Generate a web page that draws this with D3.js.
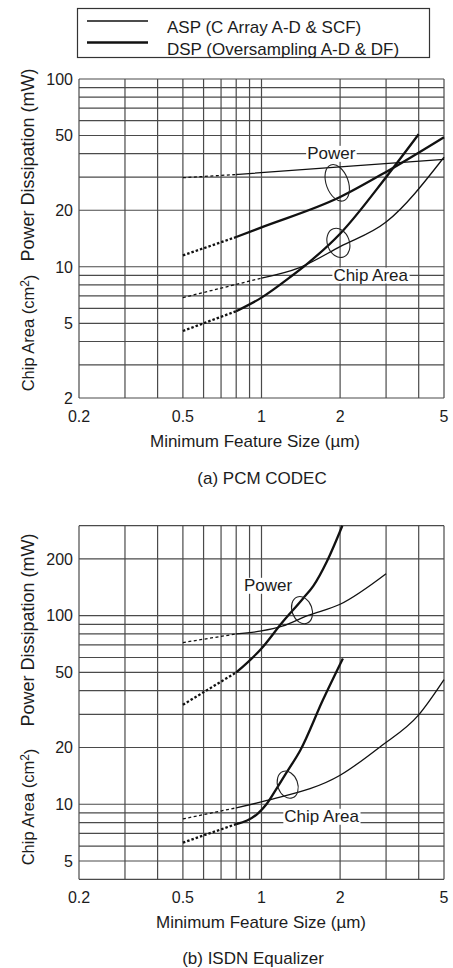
<!DOCTYPE html>
<meta charset="utf-8">

<!-- Load d3.js -->
<script src="https://d3js.org/d3.v7.min.js"></script>

<style>
  body { margin: 0; background: #fff; }
  text { font-family: "Liberation Sans", Arial, sans-serif; fill: #1c1c1c; }
</style>

<!-- Create a div where the graph will take place -->
<div id="chart"></div>

<script>

// ---- data (feature size in um, power in mW / area in cm2) ----

// (a) PCM CODEC
var pcmAspPowerX = [0.5, 0.8, 2, 5];
var pcmAspPowerY = [29.8, 31, 34, 37.3];
var pcmDspPowerX = [0.5, 0.8, 1, 2, 3, 5];
var pcmDspPowerY = [11.5, 14.4, 16.2, 23.5, 32, 49];
var pcmAspChipX = [0.5, 1, 1.4, 2, 3, 5];
var pcmAspChipY = [6.85, 8.7, 9.9, 12.8, 17.3, 38.3];
var pcmDspChipX = [0.5, 0.8, 1, 1.3, 1.5, 2, 3, 4];
var pcmDspChipY = [4.55, 5.8, 6.85, 8.9, 10.4, 15, 30, 50.8];
// where the dotted (extrapolated) part stops: asp power, dsp power, asp chip, dsp chip
var pcmDashEnd = [0.8, 0.8, 1, 0.8];

// (b) ISDN Equalizer
var isdnAspPowerX = [0.5, 0.8, 1, 1.2, 1.5, 2, 3];
var isdnAspPowerY = [72, 80, 83, 88, 100, 115, 167];
var isdnDspPowerX = [0.5, 0.8, 1, 1.2, 1.44, 1.58, 1.78, 2.04];
var isdnDspPowerY = [33.7, 50, 67, 92, 123, 144, 194, 300];
var isdnAspChipX = [0.5, 0.8, 1.05, 2, 2.85, 4, 5];
var isdnAspChipY = [8.36, 9.57, 10.47, 14.25, 20.2, 29.8, 45.8];
var isdnDspChipX = [0.5, 0.8, 0.97, 1.05, 1.15, 1.25, 1.41, 1.72, 2.05];
var isdnDspChipY = [6.26, 7.85, 8.95, 10.1, 12.3, 14.8, 19.4, 35.8, 59.3];
var isdnDashEnd = [0.8, 0.8, 0.8, 0.8];

// ticks and grid
var xTicks = [0.2, 0.5, 1, 2, 5];
var xGrid = [0.2, 0.3, 0.4, 0.5, 0.6, 0.7, 0.8, 0.9, 1, 2, 3, 4, 5];
var pcmYTicks = [2, 5, 10, 20, 50, 100];
var pcmYGrid = [2, 3, 4, 5, 6, 7, 8, 9, 10, 20, 30, 40, 50, 60, 70, 80, 90, 100];
var isdnYTicks = [5, 10, 20, 50, 100, 200];
var isdnYGrid = [4, 5, 6, 7, 8, 9, 10, 20, 30, 40, 50, 60, 70, 80, 90, 100, 200, 300];

var legendLabels = ["ASP (C Array A-D & SCF)", "DSP (Oversampling A-D & DF)"];

// annotation labels and ellipses, placed in data units
var pcmNotes = [{text: "Power", x: 1.85, y: 40.5}, {text: "Chip Area", x: 2.62, y: 9.1}];
var pcmRings = [{x: 1.95, y: 28, rx: 11, ry: 19}, {x: 1.97, y: 13.4, rx: 11, ry: 15}];
var isdnNotes = [{text: "Power", x: 1.06, y: 146}, {text: "Chip Area", x: 1.7, y: 8.7}];
var isdnRings = [{x: 1.43, y: 107, rx: 10, ry: 14}, {x: 1.26, y: 12.7, rx: 10, ry: 14}];

// ---- page ----
var W = 453, H = 968;
var svg = d3.select("#chart")
  .append("svg")
    .attr("width", W)
    .attr("height", H);

var x = d3.scaleLog()
  .domain([0.2, 5])
  .range([79, 444]);

// legend
var legend = svg.append("g");
legend.append("rect")
  .attr("x", 77.5).attr("y", 8.5)
  .attr("width", 352).attr("height", 49)
  .attr("fill", "none")
  .attr("stroke", "#333")
  .attr("stroke-width", 1.2);
legendLabels.forEach(function(label, i) {
  legend.append("line")
    .attr("x1", 87).attr("x2", 148)
    .attr("y1", 21 + i * 21.5).attr("y2", 21 + i * 21.5)
    .attr("stroke", "#111")
    .attr("stroke-width", i == 0 ? 1.5 : 2.4);
  legend.append("text")
    .attr("x", 167)
    .attr("y", 32.5 + i * 22)
    .style("font-size", "17px")
    .text(label);
});

function zip(xs, ys) {
  return xs.map(function(v, i) { return [v, ys[i]]; });
}

function drawPanel(p) {
  var y = d3.scaleLog()
    .domain(p.yDomain)
    .range(p.yRange);
  var g = svg.append("g");

  // grid
  g.selectAll(".vgrid")
    .data(xGrid)
    .enter()
    .append("line")
      .attr("x1", function(d) { return x(d); })
      .attr("x2", function(d) { return x(d); })
      .attr("y1", p.yRange[0])
      .attr("y2", p.yRange[1])
      .attr("stroke", "#4a4a4a")
      .attr("stroke-width", 1.2);
  g.selectAll(".hgrid")
    .data(p.yGrid)
    .enter()
    .append("line")
      .attr("x1", x.range()[0])
      .attr("x2", x.range()[1])
      .attr("y1", function(d) { return y(d); })
      .attr("y2", function(d) { return y(d); })
      .attr("stroke", "#4a4a4a")
      .attr("stroke-width", 1.2);

  // tick labels
  g.selectAll(".ylab")
    .data(p.yTicks)
    .enter()
    .append("text")
      .attr("x", 73)
      .attr("y", function(d) { return y(d); })
      .attr("dy", "0.36em")
      .attr("text-anchor", "end")
      .style("font-size", "16px")
      .text(function(d) { return d; });
  g.selectAll(".xlab")
    .data(xTicks)
    .enter()
    .append("text")
      .attr("x", function(d) { return x(d); })
      .attr("y", p.yRange[0] + 24)
      .attr("text-anchor", "middle")
      .style("font-size", "16px")
      .text(function(d) { return d; });

  // axis titles
  g.append("text")
    .attr("x", p.xTitleX)
    .attr("y", p.yRange[0] + 49)
    .attr("text-anchor", "middle")
    .style("font-size", "17px")
    .text("Minimum Feature Size (\u00b5m)");
  g.append("text")
    .attr("transform", "translate(34," + p.powerTitleY + ")rotate(-90)")
    .attr("text-anchor", "middle")
    .style("font-size", "18px")
    .text("Power Dissipation (mW)");
  var chip = g.append("text")
    .attr("transform", "translate(34," + p.chipTitleY + ")rotate(-90)")
    .attr("text-anchor", "middle")
    .style("font-size", "16.5px");
  chip.append("tspan").text("Chip Area (cm");
  chip.append("tspan").attr("dy", "-0.4em").style("font-size", "12px").text("2");
  chip.append("tspan").attr("dy", "0.4em").text(")");

  // caption
  g.append("text")
    .attr("x", p.captionX)
    .attr("y", p.captionY)
    .attr("text-anchor", "middle")
    .style("font-size", "17px")
    .text(p.caption);

  // curves: dotted part up to dashEnd, solid after it
  var line = d3.line()
    .x(function(d) { return x(d[0]); })
    .y(function(d) { return y(d[1]); })
    .curve(d3.curveMonotoneX);

  p.series.forEach(function(s) {
    var pts = zip(s.xs, s.ys);
    var dotted = pts.filter(function(d) { return d[0] <= s.dashEnd; });
    var solid = pts.filter(function(d) { return d[0] >= s.dashEnd; });
    g.append("path")
      .attr("d", line(dotted))
      .attr("fill", "none")
      .attr("stroke", "#111")
      .attr("stroke-width", s.thick ? 2.3 : 1.3)
      .attr("stroke-dasharray", s.thick ? "2.5,2" : "3,2.5");
    g.append("path")
      .attr("d", line(solid))
      .attr("fill", "none")
      .attr("stroke", "#111")
      .attr("stroke-width", s.thick ? 2.3 : 1.3)
      .attr("stroke-linejoin", "round");
  });

  // rings grouping the curve pairs
  p.rings.forEach(function(r) {
    g.append("ellipse")
      .attr("transform", "translate(" + x(r.x) + "," + y(r.y) + ")rotate(-20)")
      .attr("rx", r.rx)
      .attr("ry", r.ry)
      .attr("fill", "none")
      .attr("stroke", "#222")
      .attr("stroke-width", 1.1);
  });

  // labels sit on a grid line with a white patch behind
  p.notes.forEach(function(n) {
    var t = g.append("text")
      .attr("x", x(n.x))
      .attr("y", y(n.y))
      .attr("dy", "0.36em")
      .attr("text-anchor", "middle")
      .style("font-size", "17px")
      .text(n.text);
    var b = t.node().getBBox();
    g.insert("rect", function() { return t.node(); })
      .attr("x", b.x - 1)
      .attr("y", b.y + 2)
      .attr("width", b.width + 2)
      .attr("height", b.height - 3)
      .attr("fill", "#fff");
  });
}

drawPanel({
  yDomain: [2, 100],
  yRange: [398, 79],
  yGrid: pcmYGrid,
  yTicks: pcmYTicks,
  xTitleX: 255,
  powerTitleY: 165,
  chipTitleY: 333,
  caption: "(a) PCM CODEC",
  captionX: 262,
  captionY: 484,
  series: [
    {xs: pcmAspPowerX, ys: pcmAspPowerY, dashEnd: pcmDashEnd[0], thick: false},
    {xs: pcmDspPowerX, ys: pcmDspPowerY, dashEnd: pcmDashEnd[1], thick: true},
    {xs: pcmAspChipX, ys: pcmAspChipY, dashEnd: pcmDashEnd[2], thick: false},
    {xs: pcmDspChipX, ys: pcmDspChipY, dashEnd: pcmDashEnd[3], thick: true}
  ],
  notes: pcmNotes,
  rings: pcmRings
});

drawPanel({
  yDomain: [4, 300],
  yRange: [879.3, 525.7],
  yGrid: isdnYGrid,
  yTicks: isdnYTicks,
  xTitleX: 261,
  powerTitleY: 630,
  chipTitleY: 807,
  caption: "(b) ISDN Equalizer",
  captionX: 253,
  captionY: 964,
  series: [
    {xs: isdnAspPowerX, ys: isdnAspPowerY, dashEnd: isdnDashEnd[0], thick: false},
    {xs: isdnDspPowerX, ys: isdnDspPowerY, dashEnd: isdnDashEnd[1], thick: true},
    {xs: isdnAspChipX, ys: isdnAspChipY, dashEnd: isdnDashEnd[2], thick: false},
    {xs: isdnDspChipX, ys: isdnDspChipY, dashEnd: isdnDashEnd[3], thick: true}
  ],
  notes: isdnNotes,
  rings: isdnRings
});

</script>
